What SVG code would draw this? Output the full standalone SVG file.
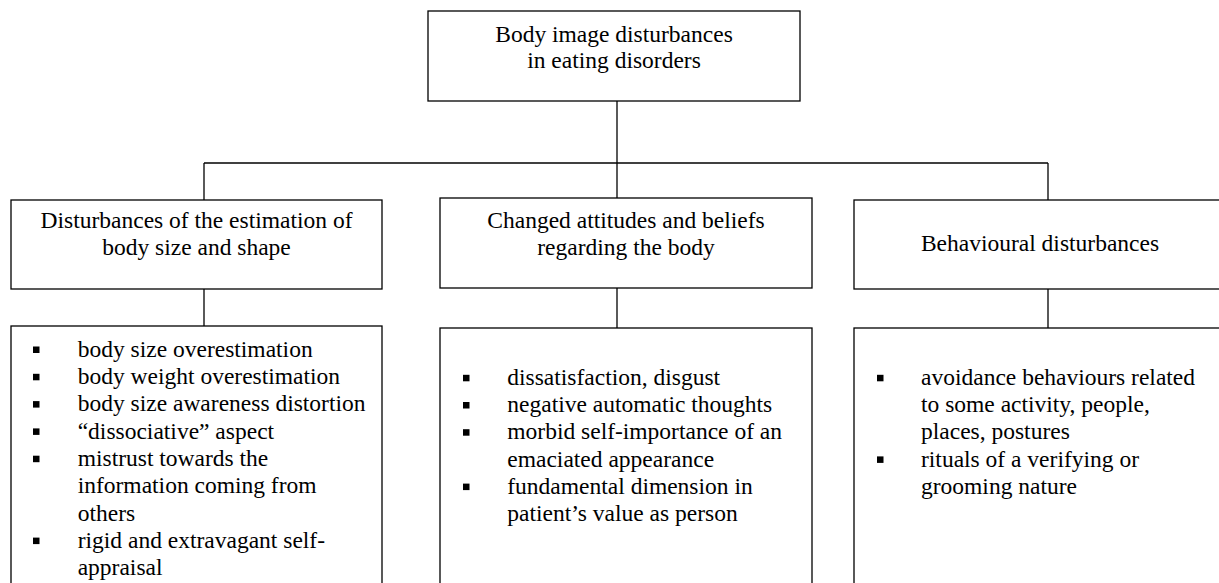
<svg xmlns="http://www.w3.org/2000/svg" width="1219" height="583" viewBox="0 0 1219 583">
<style>
.box{fill:#fff;stroke:#000;stroke-width:1.3}
.con{fill:none;stroke:#000;stroke-width:1.3}
text{font-family:"Liberation Serif","Times New Roman",serif;font-size:23.5px;fill:#000}
.c{text-anchor:middle}
.b{fill:#000}
</style>
<defs>
<rect id="bul" width="6.5" height="6.5" class="b"/>
</defs>
<g id="connectors">
<line class="con" x1="617" y1="101" x2="617" y2="163"/>
<line class="con" x1="204" y1="163" x2="1048" y2="163"/>
<line class="con" x1="204" y1="163" x2="204" y2="200"/>
<line class="con" x1="617" y1="163" x2="617" y2="198"/>
<line class="con" x1="1048" y1="163" x2="1048" y2="200"/>
<line class="con" x1="204" y1="289" x2="204" y2="326"/>
<line class="con" x1="617" y1="288" x2="617" y2="328"/>
<line class="con" x1="1048" y1="289" x2="1048" y2="328"/>
</g>
<g id="root">
<rect class="box" x="428" y="11" width="372" height="90"/>
<text class="c" x="614" y="41.7">Body image disturbances</text>
<text class="c" x="614" y="67.7">in eating disorders</text>
</g>
<g id="cat1">
<rect class="box" x="11" y="200" width="371" height="89"/>
<text class="c" x="196.5" y="228.3">Disturbances of the estimation of</text>
<text class="c" x="196.5" y="255">body size and shape</text>
</g>
<g id="cat2">
<rect class="box" x="440" y="198" width="372" height="90"/>
<text class="c" x="626" y="228.3">Changed attitudes and beliefs</text>
<text class="c" x="626" y="255">regarding the body</text>
</g>
<g id="cat3">
<rect class="box" x="854" y="200" width="380" height="89"/>
<text class="c" x="1040" y="251">Behavioural disturbances</text>
</g>
<g id="list1">
<rect class="box" x="11" y="326" width="371" height="270"/>
<use href="#bul" x="33" y="346.5"/>
<text x="77.7" y="356.7">body size overestimation</text>
<use href="#bul" x="33" y="373.8"/>
<text x="77.7" y="384">body weight overestimation</text>
<use href="#bul" x="33" y="401.1"/>
<text x="77.7" y="411.3">body size awareness distortion</text>
<use href="#bul" x="33" y="428.4"/>
<text x="77.7" y="438.6">“dissociative” aspect</text>
<use href="#bul" x="33" y="455.7"/>
<text x="77.7" y="465.9">mistrust towards the</text>
<text x="77.7" y="493.2">information coming from</text>
<text x="77.7" y="520.5">others</text>
<use href="#bul" x="33" y="537.6"/>
<text x="77.7" y="547.8">rigid and extravagant self-</text>
<text x="77.7" y="575.1">appraisal</text>
</g>
<g id="list2">
<rect class="box" x="440" y="328" width="372" height="270"/>
<use href="#bul" x="463" y="374.8"/>
<text x="507.3" y="385">dissatisfaction, disgust</text>
<use href="#bul" x="463" y="402"/>
<text x="507.3" y="412.2">negative automatic thoughts</text>
<use href="#bul" x="463" y="429.2"/>
<text x="507.3" y="439.4">morbid self-importance of an</text>
<text x="507.3" y="466.6">emaciated appearance</text>
<use href="#bul" x="463" y="483.6"/>
<text x="507.3" y="493.8">fundamental dimension in</text>
<text x="507.3" y="521">patient’s value as person</text>
</g>
<g id="list3">
<rect class="box" x="854" y="328" width="380" height="270"/>
<use href="#bul" x="877" y="374.8"/>
<text x="921" y="385">avoidance behaviours related</text>
<text x="921" y="412.2">to some activity, people,</text>
<text x="921" y="439.4">places, postures</text>
<use href="#bul" x="877" y="456.4"/>
<text x="921" y="466.6">rituals of a verifying or</text>
<text x="921" y="493.8">grooming nature</text>
</g>
</svg>
